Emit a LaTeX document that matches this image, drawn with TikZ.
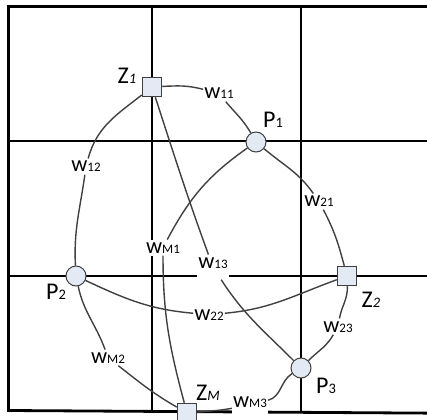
\documentclass[tikz,border=0pt]{standalone}
\usepackage{fontspec}
\setmainfont{Carlito}
\definecolor{edgec}{HTML}{404040}
\definecolor{nodefill}{HTML}{E4EAF4}
\newcommand{\wl}[1]{{\fontsize{22.5}{22.5}\selectfont w}{\fontsize{13}{13}\selectfont #1}}
\newcommand{\nmlbl}[2]{{\fontsize{24}{24}\selectfont #1}{\fontsize{14.5}{14.5}\selectfont #2}}
\begin{document}
\begin{tikzpicture}[x=1pt,y=1pt,
  gridline/.style={line width=2.8pt,black},
  edge/.style={draw=edgec,line width=1.4pt},
  sq/.style={draw=edgec,fill=nodefill,line width=1pt,minimum size=19.5pt,inner sep=0pt,shape=rectangle},
  cir/.style={draw=edgec,fill=nodefill,line width=1pt,minimum size=20pt,inner sep=0pt,shape=circle},
  lbl/.style={fill=white,inner xsep=1pt,inner ysep=2.5pt,anchor=base},
  nmtxt/.style={inner sep=0pt,anchor=base}]
\useasboundingbox (0,0) rectangle (427,-419);
\clip (0,0) rectangle (427,-419);
% grid
\draw[gridline,line join=miter] (440,-6.5) -- (8.5,-6.5) -- (8.5,-410.5) -- (440,-413.2);
\draw[gridline] (152,-6.5) -- (152,-411.5);
\draw[gridline] (301,-6.5) -- (301,-412.2);
\draw[gridline] (8.5,-141) -- (440,-141);
\draw[gridline] (8.5,-276) -- (440,-276);
% labels on connectors
\node[lbl] (w11) at (219,-99) {\wl{11}};
\node[lbl] (w12) at (86,-172) {\wl{12}};
\node[lbl,text depth=9pt] (w13) at (213,-268) {\wl{13}};
\node[lbl] (w21) at (319,-207) {\wl{21}};
\node[lbl] (w22) at (209,-320) {\wl{22}};
\node[lbl] (w23) at (338,-332) {\wl{23}};
\node[lbl] (wM1) at (163,-253) {\wl{M1}};
\node[lbl] (wM2) at (108,-363) {\wl{M2}};
\node[lbl,text depth=7pt] (wM3) at (250,-407) {\wl{M3}};
% nodes
\node[sq] (Z1) at (152,-87) {};
\node[cir] (P1) at (256,-142) {};
\node[cir] (P2) at (76,-276) {};
\node[sq] (Z2) at (347,-276) {};
\node[cir] (P3) at (301,-368) {};
\node[sq] (ZM) at (187,-413) {};
% node names
\node[nmtxt] (tZ1) at (127,-84) {\nmlbl{Z}{\itshape 1}};
\node[nmtxt] (tP1) at (273,-128) {\nmlbl{P}{1}};
\node[nmtxt] (tP2) at (56,-299) {\nmlbl{P}{2}};
\node[nmtxt] (tZ2) at (371,-307) {\nmlbl{Z}{\itshape 2}};
\node[nmtxt] (tP3) at (326,-393) {\nmlbl{P}{3}};
\node[nmtxt] (tZM) at (208,-400) {\nmlbl{Z}{\itshape M}};
% connectors
\draw[edge] (Z1) to[out=3,in=165] (w11);
\draw[edge] (w11) to[out=-50,in=120] (P1);
\draw[edge] (Z1) to[out=-142,in=75] (w12);
\draw[edge] (w12) to[out=-98,in=93] (P2);
\draw[edge] (Z1) to[out=-72,in=110] (w13);
\draw[edge] (w13) to[out=-57,in=135] (P3);
\draw[edge] (P1) to[out=-40,in=125] (w21);
\draw[edge] (w21) to[out=-62,in=105] (Z2);
\draw[edge] (P1) to[out=-145,in=62] (wM1);
\draw[edge] (wM1) to[out=-90,in=105] (ZM);
\draw[edge] (P2) to[out=-25,in=175] (w22);
\draw[edge] (w22) to[out=5,in=-160] (Z2);
\draw[edge] (Z2) to[out=-88,in=80] (w23);
\draw[edge] (w23) to[out=-120,in=45] (P3);
\draw[edge] (P2) to[out=-78,in=110] (wM2);
\draw[edge] (wM2) to[out=-38,in=150] (ZM);
\draw[edge] (P3) to[out=-148,in=15] (wM3);
\draw[edge] (wM3) to[out=190,in=5] (ZM);
\end{tikzpicture}
\end{document}
